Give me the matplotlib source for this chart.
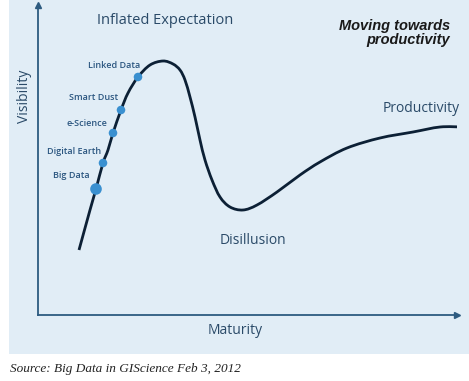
import matplotlib
matplotlib.use("Agg")
import matplotlib.pyplot as plt
from matplotlib.patches import Rectangle, PathPatch
from matplotlib.path import Path

# Hype curve (maturity, visibility)
maturity = [41, 52, 58, 65, 70, 75, 83, 90, 100, 112, 125, 135, 142, 147, 152, 157,
            162, 167, 174, 182, 192, 205, 219, 239, 262, 282, 309, 342, 375, 402, 424]
visibility = [65, 105, 126, 152, 165, 182, 205, 222, 238, 250, 254, 251, 245, 235,
              218, 198, 175, 155, 135, 118, 108, 105, 110, 123, 140, 153, 167, 177,
              183, 188, 188]

# Technologies on the curve
tech_names = ["Big Data", "Digital Earth", "e-Science", "Smart Dust", "Linked Data"]
tech_maturity = [58, 65, 75, 83, 100]
tech_visibility = [126, 152, 182, 205, 238]
tech_size = [70, 38, 38, 38, 38]

phase_labels = ["Inflated Expectation", "Disillusion", "Productivity"]
phase_maturity = [127, 215, 383]
phase_visibility = [295, 74, 207]

W, H = 469, 381
fig = plt.figure(figsize=(W / 100, H / 100), dpi=100)
fig.patch.set_facecolor("white")
fig.patches.append(Rectangle((9 / W, (H - 354) / H), 460 / W, 354 / H,
                             transform=fig.transFigure, facecolor="#e1edf6",
                             edgecolor="none", zorder=-5))

ax = fig.add_axes([38 / W, (H - 315) / H, 419 / W, 310 / H])
ax.set_zorder(2)
ax.set_facecolor("none")
ax.patch.set_alpha(0)
ax.set_xlim(0, 419)
ax.set_ylim(0, 310)
for s in ["top", "right"]:
    ax.spines[s].set_visible(False)
axis_col = "#2d5b80"
for s in ["left", "bottom"]:
    ax.spines[s].set_color(axis_col)
    ax.spines[s].set_linewidth(1.3)
ax.set_xticks([])
ax.set_yticks([])
ax.plot(1, 0, ">", color=axis_col, ms=5, transform=ax.transAxes, clip_on=False)
ax.plot(0, 1, "^", color=axis_col, ms=5, transform=ax.transAxes, clip_on=False)

# Smooth rendering of the read points (Catmull-Rom as cubic Bezier segments)
pts = list(zip(maturity, visibility))
verts = [pts[0]]
codes = [Path.MOVETO]
n = len(pts)
for i in range(n - 1):
    p0 = pts[i - 1] if i > 0 else pts[i]
    p1 = pts[i]
    p2 = pts[i + 1]
    p3 = pts[i + 2] if i + 2 < n else pts[i + 1]
    c1 = (p1[0] + (p2[0] - p0[0]) / 6, p1[1] + (p2[1] - p0[1]) / 6)
    c2 = (p2[0] - (p3[0] - p1[0]) / 6, p2[1] - (p3[1] - p1[1]) / 6)
    verts += [c1, c2, p2]
    codes += [Path.CURVE4] * 3
ax.add_patch(PathPatch(Path(verts, codes), facecolor="none", edgecolor="#0c2035",
                       lw=2.0, capstyle="butt", zorder=2))

ax.scatter(tech_maturity, tech_visibility, s=tech_size, color="#3a90d0",
           edgecolor="none", zorder=3)

label_col = "#2b5680"
offsets = [(-6, 14), (-2, 12), (-6, 9), (-3, 12), (2, 12)]
for nm, x, y, (dx, dy) in zip(tech_names, tech_maturity, tech_visibility, offsets):
    ax.text(x + dx, y + dy, nm, ha="right", va="center", fontsize=6.5,
            color=label_col, family="Open Sans", weight="semibold")

text_col = "#2a4a68"
ax.text(phase_maturity[0], phase_visibility[0], phase_labels[0], ha="center",
        va="center", fontsize=10.5, color=text_col, family="Open Sans")
ax.text(phase_maturity[1], phase_visibility[1], phase_labels[1], ha="center",
        va="center", fontsize=10, color=text_col, family="Open Sans")
ax.text(phase_maturity[2], phase_visibility[2], phase_labels[2], ha="center",
        va="center", fontsize=10, color=text_col, family="Open Sans")

fig.text(25 / W, 1 - 96 / H, "Visibility", rotation=90, ha="center", va="center",
         fontsize=10, color=text_col, family="Open Sans")
fig.text(235 / W, 1 - 331 / H, "Maturity", ha="center", va="center",
         fontsize=10, color=text_col, family="Open Sans")
fig.text(450 / W, 1 - 33 / H, "Moving towards\nproductivity", ha="right",
         va="center", fontsize=10.5, color="#1a1a1a", weight="bold", style="italic",
         family="Liberation Sans", linespacing=1.05)
fig.text(10 / W, 1 - 369 / H, "Source: Big Data in GIScience Feb 3, 2012",
         ha="left", va="center", fontsize=9.5, color="#222222", style="italic",
         family="Liberation Serif")

fig.savefig("out.png", dpi=100, facecolor="white")
